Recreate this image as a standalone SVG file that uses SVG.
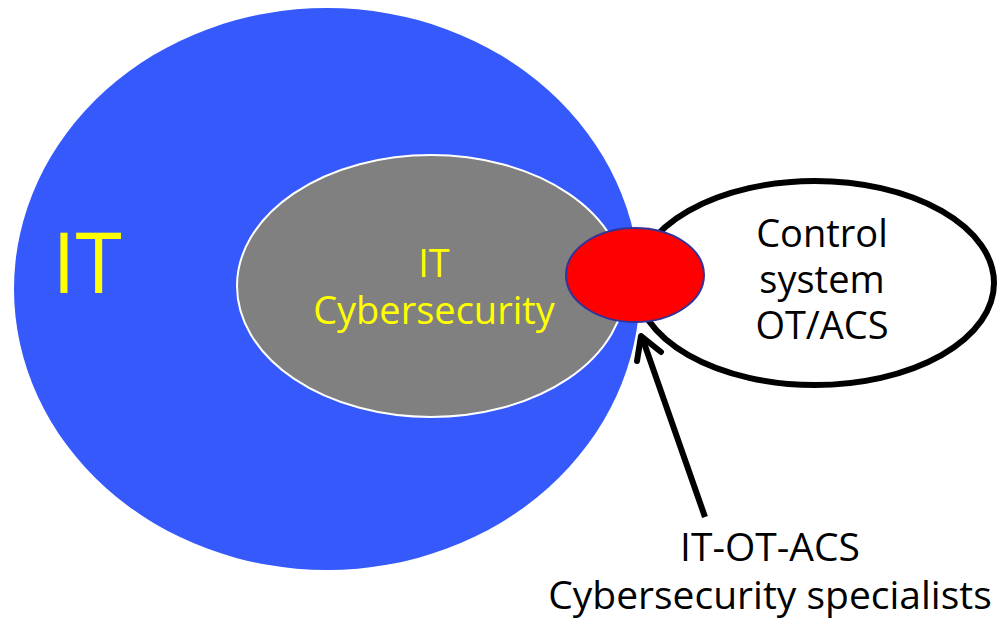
<svg xmlns="http://www.w3.org/2000/svg" width="997" height="621" viewBox="0 0 997 621">
<style>
text{font-family:"Open Sans","Noto Sans",sans-serif;text-anchor:middle}
.y{fill:#ffff00}
.k{fill:#000}
</style>
<rect width="997" height="621" fill="#fff"/>
<g id="it">
<ellipse cx="327" cy="289" rx="313" ry="281" fill="#3559fb"/>
<text x="87" y="293" class="y" font-size="84">IT</text>
</g>
<g id="itcyber">
<ellipse cx="431" cy="286" rx="194" ry="131" fill="#808080" stroke="#fff" stroke-width="2"/>
<text x="434" y="277" class="y" font-size="38">IT</text>
<text x="434" y="324" class="y" font-size="38">Cybersecurity</text>
</g>
<g id="ot">
<ellipse cx="815" cy="283" rx="179" ry="102" fill="#fff" stroke="#000" stroke-width="6"/>
<text x="822" y="247" class="k" font-size="38">Control</text>
<text x="822" y="293" class="k" font-size="38">system</text>
<text x="822" y="339" class="k" font-size="38">OT/ACS</text>
</g>
<g id="overlap">
<ellipse cx="635" cy="275" rx="69" ry="47" fill="#ff0000" stroke="#333399" stroke-width="2"/>
</g>
<g id="connectors">
<line x1="705" y1="517" x2="643" y2="340" stroke="#000" stroke-width="6"/>
<polyline points="637,361 641,336 661,352" fill="none" stroke="#000" stroke-width="6" stroke-linecap="round" stroke-linejoin="round"/>
</g>
<g id="specialists">
<text x="770" y="561" class="k" font-size="39">IT-OT-ACS</text>
<text x="770" y="609" class="k" font-size="39">Cybersecurity specialists</text>
</g>
</svg>
